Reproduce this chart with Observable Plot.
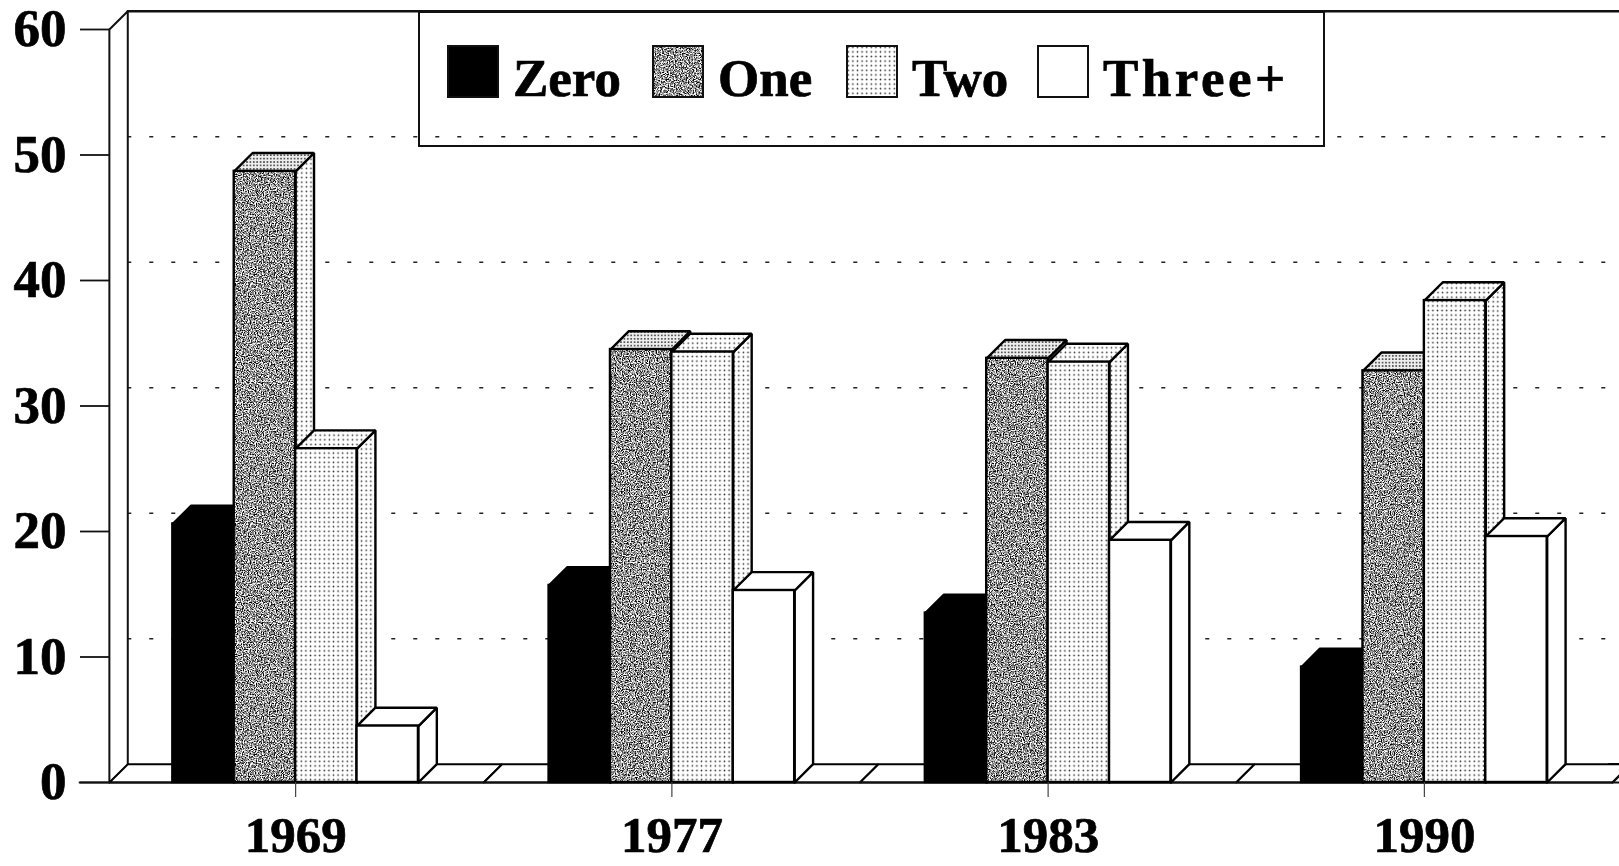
<!DOCTYPE html>
<html>
<head>
<meta charset="utf-8">
<script src="https://cdn.jsdelivr.net/npm/d3@7"></script>
<script src="https://cdn.jsdelivr.net/npm/@observablehq/plot@0.6"></script>
<style>
html,body{margin:0;padding:0;background:#fff;overflow:hidden}
#wrap{position:relative;width:1619px;height:866px;font-family:"Liberation Serif",serif;font-weight:bold;color:#000}
#legend{position:absolute;left:418px;top:11px;width:903px;height:132px;border:2px solid #111}
.sw{position:absolute;top:32px;width:52px;height:53px;display:block}
.lb{position:absolute;top:39px;font-size:53px;line-height:53px;white-space:nowrap;-webkit-text-stroke:.7px #000}
svg{display:block}
svg text{stroke:#000;stroke-width:.7px}
</style>
</head>
<body>
<div id="wrap"></div>
<script>
const years = ["1969", "1977", "1983", "1990"];
const series = ["Zero", "One", "Two", "Three+"];
const zero  = [20.6, 15.7, 13.5, 9.2];
const one   = [48.7, 34.5, 33.8, 32.8];
const two   = [26.6, 34.3, 33.5, 38.4];
const three = [4.5, 15.3, 19.3, 19.6];
const values = [zero, one, two, three];
const yTicks = [0, 10, 20, 30, 40, 50, 60];
const gridTicks = [10, 20, 30, 40, 50];

const frontFill = ["#000", "url(#noise)", "url(#dots)", "#fff"];
const sideFill  = ["#000", "url(#dots)", "url(#dots)", "#fff"];
const topFill   = ["#000", "url(#fine)", "url(#dots)", "#fff"];

// layout, in scale units
const barW = 0.1632, depthX = 0.0489, depthY = 1.46;
const wall = -0.495, band = [-0.5, 3.5], rightEnd = 3.53;

const close = (id, fill, pts) => pts.concat([pts[0]]).map(([x, y]) => ({id, fill, x, y}));

function facesOf(s) {
  return values[s].flatMap((v, g) => {
    const x1 = g + (s - 2) * barW, x2 = x1 + barW;
    return [
      ...close(`side-${s}-${g}`, sideFill[s], [[x2, 0], [x2 + depthX, depthY], [x2 + depthX, v + depthY], [x2, v]]),
      ...close(`top-${s}-${g}`, topFill[s], [[x1, v], [x1 + depthX, v + depthY], [x2 + depthX, v + depthY], [x2, v]])
    ];
  });
}
const frontsOf = s => values[s].map((v, g) => ({x1: g + (s - 2) * barW, x2: g + (s - 1) * barW, v}));

const floors = years.map((_, g) => {
  const a = g === 0 ? wall : g - 0.5, b = g + 0.5;
  return close(`floor-${g}`, "#fff", [[a, 0], [a + depthX, depthY], [b + depthX, depthY], [b, 0]]);
}).flat();

const defs = () => {
  const ns = "http://www.w3.org/2000/svg";
  const g = document.createElementNS(ns, "defs");
  g.innerHTML = `
  <filter id="grain" x="0" y="0" width="100%" height="100%" color-interpolation-filters="sRGB">
    <feTurbulence type="fractalNoise" baseFrequency="0.85" numOctaves="2" seed="4"/>
    <feColorMatrix type="matrix" values="3 0 0 0 -0.92  3 0 0 0 -0.92  3 0 0 0 -0.92  0 0 0 0 1"/>
  </filter>
  <pattern id="noise" patternUnits="userSpaceOnUse" width="240" height="240">
    <rect width="240" height="240" filter="url(#grain)"/>
  </pattern>
  <pattern id="dots" patternUnits="userSpaceOnUse" width="4.6" height="4.6">
    <rect width="4.6" height="4.6" fill="#fff"/>
    <circle cx="2.3" cy="2.3" r="0.85" fill="#333"/>
  </pattern>
  <pattern id="fine" patternUnits="userSpaceOnUse" width="3.4" height="3.4">
    <rect width="3.4" height="3.4" fill="#eee"/>
    <circle cx="1.7" cy="1.7" r="0.95" fill="#333"/>
  </pattern>`;
  return g;
};

const faceOpts = {x: "x", y: "y", z: "id", fill: "fill", stroke: "#000", strokeWidth: 2.4, strokeLinejoin: "miter", curve: "linear"};
const textOpts = {fontFamily: "Liberation Serif", fontWeight: "bold", fill: "#000"};

const chart = Plot.plot({
  width: 1619,
  height: 866,
  marginLeft: 110,
  marginRight: 0,
  marginTop: 29,
  marginBottom: 84,
  style: {background: "#fff", fontFamily: "Liberation Serif"},
  x: {domain: band, range: [107, 1612]},
  y: {domain: [0, 60], range: [782, 29]},
  color: {type: "identity"},
  marks: [
    defs,
    Plot.ruleY(gridTicks, {y: d => d + depthY, x1: wall + depthX, x2: rightEnd, stroke: "#222", strokeWidth: 1.6, strokeDasharray: "4 18"}),
    Plot.line(close("wall", "none", [[wall, 0], [wall, 60], [wall + depthX, 60 + depthY], [wall + depthX, depthY]]).slice(0, 4), {x: "x", y: "y", stroke: "#111", strokeWidth: 2, curve: "linear"}),
    Plot.line([[wall + depthX, 60 + depthY], [rightEnd, 60 + depthY]], {x: d => d[0], y: d => d[1], stroke: "#111", strokeWidth: 2.4}),
    Plot.ruleY([0], {x1: rightEnd - 0.04, x2: rightEnd, y: depthY, stroke: "#111", strokeWidth: 2.2}),
    Plot.line(floors, {...faceOpts, strokeWidth: 2}),
    Plot.line(close("floor-end", "#fff", [[3.5, 0], [3.5 + depthX, depthY], [3.5 + depthX, 0]]).slice(0, 2), {x: "x", y: "y", stroke: "#111", strokeWidth: 2}),
    Plot.ruleY([0], {x1: wall - 0.08, x2: rightEnd, stroke: "#111", strokeWidth: 2}),
    ...series.flatMap((_, s) => [
      Plot.line(facesOf(s), faceOpts),
      Plot.rect(frontsOf(s), {x1: "x1", x2: "x2", y1: 0, y2: "v", fill: frontFill[s], stroke: "#000", strokeWidth: 2.4})
    ]),
    Plot.axisY({anchor: "left", ticks: yTicks, tickSize: 30, tickPadding: 14, label: null, fontSize: 53, stroke: "#111", strokeWidth: 1.8, ...textOpts}),
    Plot.axisX({anchor: "bottom", ticks: [0, 1, 2, 3], tickFormat: i => years[i], tickSize: 15, tickPadding: 18, label: null, fontSize: 51, stroke: "#444", strokeWidth: 1.2, ...textOpts})
  ]
});
const wrap = document.getElementById("wrap");
wrap.appendChild(chart);

// legend box sits inside the plot frame
const legendSwatchX = [27, 232, 426, 617];
const legendLabelX = [93, 298, 492, 683];
const legend = document.createElement("div");
legend.id = "legend";
const patternSvg = (fill, stroke) => `<svg class="sw" width="52" height="53"><rect x="1" y="1" width="50" height="51" fill="${fill}" stroke="${stroke}" stroke-width="2"/></svg>`;
legend.innerHTML = series.map((name, s) =>
  patternSvg(frontFill[s], "#111").replace('class="sw"', `class="sw" style="left:${legendSwatchX[s]}px"`) +
  `<span class="lb" style="left:${legendLabelX[s]}px${s === 3 ? ";letter-spacing:3.5px" : ""}">${name}</span>`
).join("");
wrap.appendChild(legend);
</script>
</body>
</html>
